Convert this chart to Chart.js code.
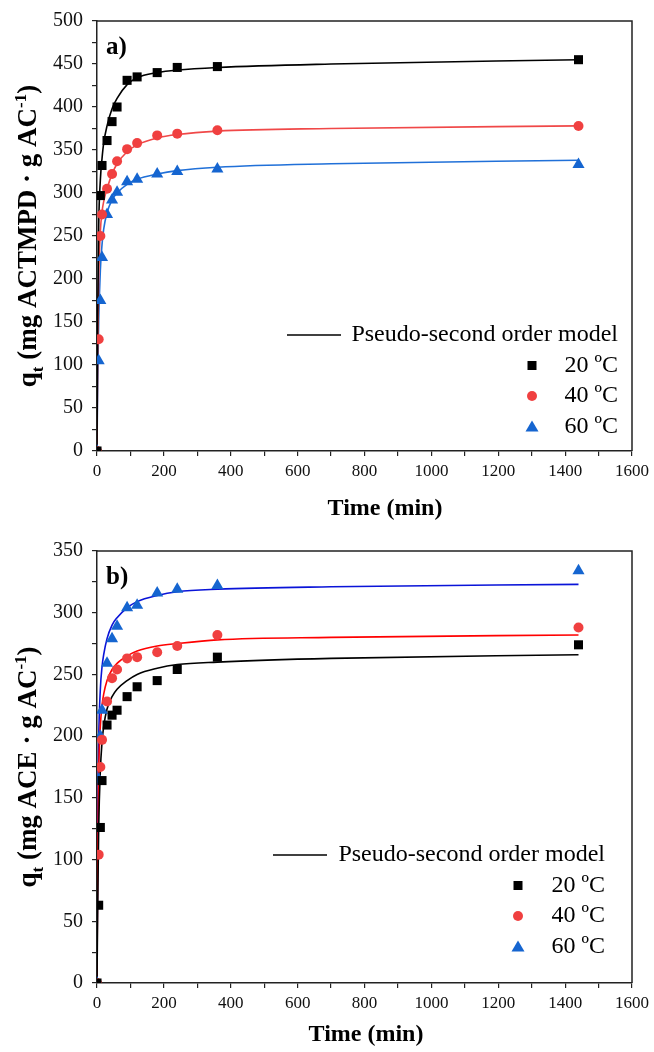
<!DOCTYPE html>
<html>
<head>
<meta charset="utf-8">
<script src="https://cdn.jsdelivr.net/npm/chart.js@4"></script>
<style>
  body { margin: 0; background: #fff; }
  canvas { display: block; }
</style>
</head>
<body>
<canvas id="chartA" width="654" height="526"></canvas>
<canvas id="chartB" width="654" height="526"></canvas>
<script>
// measured times (min)
const times = [0, 5, 10, 15, 30, 45, 60, 90, 120, 180, 240, 360, 1440];
// times for the fitted model lines
const fitTimes = [0, 2, 5, 10, 15, 20, 30, 45, 60, 90, 120, 180, 240, 360, 700, 1440];

// a) ACTMPD
const a20 = [0, null, 297, 332, 361, 383, 400, 431, 435, 440, 446, 447, 455];
const a40 = [0, 130, 250, 275, 305, 322, 337, 351, 358, 367, 369, 373, 378];
const a60 = [0, 105, 175, 225, 275, 292, 301, 313, 316, 322, 325, 328, 333];
const a20Fit = [0, 150, 260, 315, 340, 358, 378, 398, 410, 426, 434, 440, 443, 446, 450, 455];
const a40Fit = [0, 110, 200, 255, 278, 290, 305, 322, 334, 348, 356, 364, 368, 372, 375, 378];
const a60Fit = [0, 80, 150, 210, 240, 258, 277, 292, 300, 310, 316, 322, 326, 330, 334, 338];

// b) ACE
const b20 = [0, 63, 126, 164, 209, 217, 221, 232, 240, 245, 254, 264, 274];
const b40 = [0, 104, 175, 197, 228, 247, 254, 263, 264, 268, 273, 282, 288];
const b60 = [0, 165, 200, 221, 259, 279, 289, 304, 306, 316, 319, 322, 334];
const b20Fit = [0, 60, 125, 172, 195, 208, 222, 232, 238, 245, 250, 255, 258, 260, 263, 266];
const b40Fit = [0, 100, 170, 208, 225, 234, 245, 254, 259, 265, 269, 273, 275, 278, 280, 282];
const b60Fit = [0, 120, 195, 238, 256, 266, 279, 290, 296, 304, 309, 314, 317, 319, 321, 323];

const legendModel = 'Pseudo-second order model';
const legendTemps = ['20 ºC', '40 ºC', '60 ºC'];
const xTitle = 'Time (min)';

const SERIF = '"Liberation Serif", "Times New Roman", serif';

function pts(xs, ys) {
  return xs.map((x, i) => ({ x: x, y: ys[i] }));
}

function drawMarker(ctx, style, x, y, color) {
  ctx.save();
  ctx.fillStyle = color;
  ctx.beginPath();
  if (style === 'rect') {
    ctx.rect(x - 4.5, y - 4.5, 9, 9);
  } else if (style === 'circle') {
    ctx.arc(x, y, 5, 0, Math.PI * 2);
  } else {
    ctx.moveTo(x, y - 6);
    ctx.lineTo(x + 6.5, y + 5);
    ctx.lineTo(x - 6.5, y + 5);
    ctx.closePath();
  }
  ctx.fill();
  ctx.restore();
}

// draws text pieces with sub/superscripts, centred at 0,0
function drawRich(ctx, parts, size) {
  const small = Math.round(size * 0.62);
  let total = 0;
  parts.forEach(p => {
    ctx.font = 'bold ' + (p.s ? small : size) + 'px ' + SERIF;
    p.w = ctx.measureText(p.t).width;
    total += p.w;
  });
  let x = -total / 2;
  parts.forEach(p => {
    ctx.font = 'bold ' + (p.s ? small : size) + 'px ' + SERIF;
    const dy = p.s === 'sub' ? size * 0.25 : p.s === 'sup' ? -size * 0.38 : 0;
    ctx.fillText(p.t, x, dy);
    x += p.w;
  });
}

function makeChart(id, o) {
  const deco = {
    id: 'deco',
    afterDraw(chart) {
      const ctx = chart.ctx;
      const a = chart.chartArea;
      ctx.save();
      // frame top + right
      ctx.strokeStyle = '#222';
      ctx.lineWidth = 1.5;
      ctx.beginPath();
      ctx.moveTo(a.left, a.top);
      ctx.lineTo(a.right, a.top);
      ctx.lineTo(a.right, a.bottom);
      ctx.stroke();

      ctx.fillStyle = '#000';
      ctx.textBaseline = 'alphabetic';
      // panel label
      ctx.font = 'bold 25px ' + SERIF;
      ctx.textAlign = 'left';
      ctx.fillText(o.panel, a.left + 9, a.top + 33);

      // x title
      ctx.font = 'bold 24px ' + SERIF;
      ctx.textAlign = 'center';
      ctx.fillText(xTitle, o.xTitleX, a.bottom + o.xTitleDy);

      // y title
      ctx.save();
      ctx.translate(o.yTitleX, (a.top + a.bottom) / 2);
      ctx.rotate(-Math.PI / 2);
      ctx.textAlign = 'left';
      drawRich(ctx, o.yParts, o.yTitleSize);
      ctx.restore();

      // legend
      const L = o.legend;
      ctx.strokeStyle = '#000';
      ctx.lineWidth = 1.5;
      ctx.beginPath();
      ctx.moveTo(L.lineX0, L.y0);
      ctx.lineTo(L.lineX1, L.y0);
      ctx.stroke();
      ctx.font = '24px ' + SERIF;
      ctx.textAlign = 'right';
      ctx.textBaseline = 'middle';
      ctx.fillText(legendModel, L.right, L.y0);
      const styles = ['rect', 'circle', 'triangle'];
      legendTemps.forEach((t, i) => {
        const y = L.y0 + L.gap * (i + 1);
        drawMarker(ctx, styles[i], L.markX, y, o.markColors[i]);
        ctx.fillText(t, L.right, y);
      });
      ctx.restore();
    }
  };

  const datasets = [];
  o.fits.forEach((f, i) => {
    datasets.push({
      data: pts(fitTimes, f),
      showLine: true,
      borderColor: o.lineColors[i],
      borderWidth: 1.6,
      pointRadius: 0,
      cubicInterpolationMode: 'monotone',
      order: 2
    });
  });
  const styles = ['rect', 'circle', 'triangle'];
  const radii = [6.4, 5, 7];
  o.series.forEach((s, i) => {
    datasets.push({
      data: pts(times, s),
      showLine: false,
      pointStyle: styles[i],
      pointRadius: radii[i],
      pointBackgroundColor: o.markColors[i],
      pointBorderWidth: 0,
      order: 1
    });
  });

  return new Chart(document.getElementById(id).getContext('2d'), {
    type: 'scatter',
    data: { datasets: datasets },
    plugins: [deco],
    options: {
      responsive: false,
      animation: false,
      devicePixelRatio: 1,
      layout: { padding: { left: 0, top: o.padTop, right: 21, bottom: 0 } },
      plugins: { legend: { display: false }, tooltip: { enabled: false } },
      scales: {
        x: {
          type: 'linear',
          min: 0,
          max: 1600,
          afterFit(scale) { scale.height = o.xHeight; },
          border: { color: '#222', width: 1.5 },
          grid: { drawOnChartArea: false, tickLength: 5, color: '#222', lineWidth: 1.2 },
          ticks: {
            stepSize: 100,
            autoSkip: false,
            maxRotation: 0,
            padding: 5,
            color: '#111',
            font: { family: SERIF, size: 17 },
            callback: v => (v % 200 === 0 ? v : '')
          }
        },
        y: {
          type: 'linear',
          min: 0,
          max: o.yMax,
          afterFit(scale) { scale.width = 97; },
          border: { color: '#222', width: 1.5 },
          grid: { drawOnChartArea: false, tickLength: 5, color: '#222', lineWidth: 1.2 },
          ticks: {
            stepSize: 25,
            autoSkip: false,
            padding: 9,
            color: '#111',
            font: { family: SERIF, size: 20 },
            callback: v => (v % 50 === 0 ? v : '')
          }
        }
      }
    }
  });
}

makeChart('chartA', {
  panel: 'a)',
  yMax: 500,
  padTop: 19,
  xHeight: 75,
  xTitleX: 385,
  xTitleDy: 64,
  yTitleX: 36,
  yTitleSize: 27,
  yParts: [{ t: 'q' }, { t: 't', s: 'sub' }, { t: ' (mg ACTMPD · g AC' }, { t: '-1', s: 'sup' }, { t: ')' }],
  series: [a20, a40, a60],
  fits: [a20Fit, a40Fit, a60Fit],
  markColors: ['#000000', '#f04040', '#1565d0'],
  lineColors: ['#000000', '#f04848', '#2070d8'],
  legend: { lineX0: 287, lineX1: 341, y0: 335, gap: 30.5, markX: 532, right: 618 }
});

makeChart('chartB', {
  panel: 'b)',
  yMax: 350,
  padTop: 25,
  xHeight: 69,
  xTitleX: 366,
  xTitleDy: 58,
  yTitleX: 36,
  yTitleSize: 27,
  yParts: [{ t: 'q' }, { t: 't', s: 'sub' }, { t: ' (mg ACE · g AC' }, { t: '-1', s: 'sup' }, { t: ')' }],
  series: [b20, b40, b60],
  fits: [b20Fit, b40Fit, b60Fit],
  markColors: ['#000000', '#f04040', '#1565d0'],
  lineColors: ['#000000', '#ff0000', '#0a14d8'],
  legend: { lineX0: 273, lineX1: 327, y0: 329, gap: 30.5, markX: 518, right: 605 }
});
</script>
</body>
</html>
